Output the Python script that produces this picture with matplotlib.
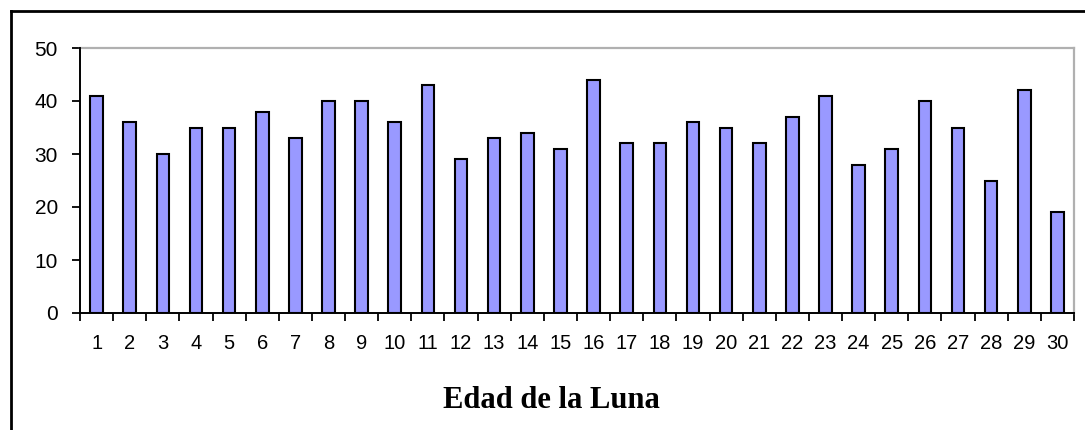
import matplotlib.pyplot as plt
import numpy as np
from matplotlib.lines import Line2D

dias = list(range(1, 31))
valores = [41, 36, 30, 35, 35, 38, 33, 40, 40, 36,
           43, 29, 33, 34, 31, 44, 32, 32, 36, 35,
           32, 37, 41, 28, 31, 40, 35, 25, 42, 19]
y_ticks = [0, 10, 20, 30, 40, 50]

W, H = 1085, 430
fig = plt.figure(figsize=(W / 100, H / 100), dpi=100)
ax = fig.add_axes([80 / W, (H - 313) / H, (1074 - 80) / W, (313 - 48) / H])

ax.bar(dias, valores, width=0.38, color='#9999FF', edgecolor='black', linewidth=1.5, zorder=3)

ax.set_xlim(0.5, 30.5)
ax.set_ylim(0, 50)

# category labels in the middle, tick marks between categories (Excel style)
ax.set_xticks(dias)
ax.set_xticklabels([str(d) for d in dias], fontfamily='Liberation Sans', fontsize=14.5)
ax.tick_params(axis='x', which='major', length=0, pad=15)
ax.set_xticks(np.arange(0.5, 31, 1), minor=True)
ax.tick_params(axis='x', which='minor', length=6, width=1.3, direction='out', color='black')

ax.set_yticks(y_ticks)
ax.set_yticklabels([str(v) for v in y_ticks], fontfamily='Liberation Sans', fontsize=15)
ax.tick_params(axis='y', length=6, width=1.3, direction='out', pad=10, color='black')

for s in ['left', 'bottom']:
    ax.spines[s].set_color('black')
    ax.spines[s].set_linewidth(1.4)
    ax.spines[s].set_zorder(4)
for s in ['top', 'right']:
    ax.spines[s].set_color('#b0b0b0')
    ax.spines[s].set_linewidth(1.6)

fig.text(551 / W, (H - 401) / H, 'Edad de la Luna', ha='center', va='center',
         fontfamily='Liberation Serif', fontweight='bold', fontsize=22)

# chart border (only left and top visible in the crop)
fig.add_artist(Line2D([10.5 / W, 10.5 / W], [0, (H - 10.5) / H], color='black', linewidth=2, transform=fig.transFigure))
fig.add_artist(Line2D([10.5 / W, 1], [(H - 10.5) / H, (H - 10.5) / H], color='black', linewidth=2, transform=fig.transFigure))

fig.savefig('out.png', dpi=100)
